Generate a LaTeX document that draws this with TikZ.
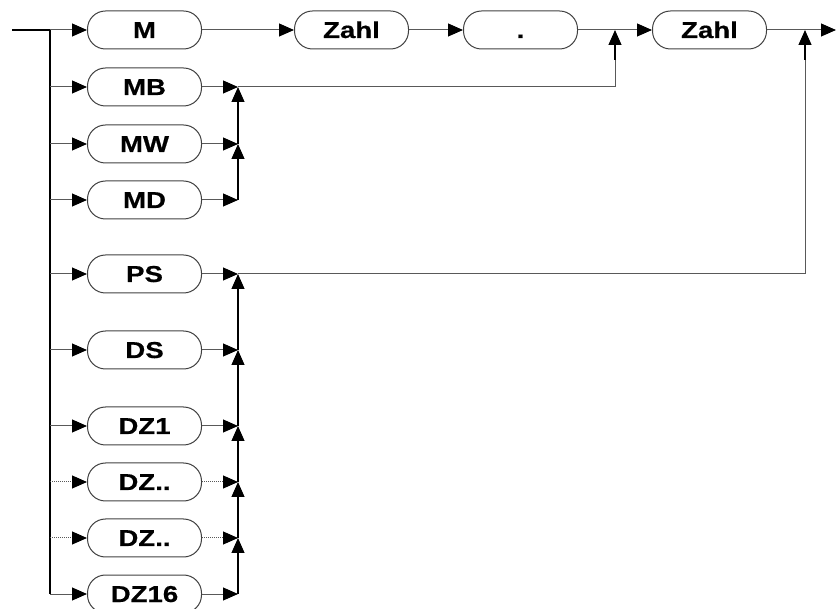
\documentclass[tikz,border=0pt]{standalone}
\usepackage{fontspec}
\newfontfamily\lab{Liberation Sans}[FakeStretch=1.2,BoldFeatures={FakeBold=0.6}]
\usetikzlibrary{arrows.meta}
\begin{document}
\begin{tikzpicture}[x=1pt,y=-1pt,
  box/.style={draw=black!75, line width=1pt, rounded corners=18pt, minimum width=114pt, minimum height=38pt,
    inner sep=0pt, text height=16pt, text depth=0pt, font=\fontsize{23}{23}\lab\bfseries},
  tip/.style={-{Triangle[length=15pt,width=13pt,color=black]}},
  hline/.style={draw=black!65, line width=1pt},
  dline/.style={draw=black!65, line width=1pt, densely dotted},
  vline/.style={draw=black, line width=1.2pt}]
\useasboundingbox (0,0) rectangle (836,609);
% boxes
\node[box] (M) at (144.5,30) {M};
\node[box] (MB) at (144.5,87) {MB};
\node[box] (MW) at (144.5,144) {MW};
\node[box] (MD) at (144.5,200) {MD};
\node[box] (PS) at (144.5,274) {PS};
\node[box] (DS) at (144.5,350) {DS};
\node[box] (DZa) at (144.5,426) {DZ1};
\node[box] (DZb) at (144.5,482) {DZ..};
\node[box] (DZc) at (144.5,538) {DZ..};
\node[box] (DZd) at (144.5,594) {DZ16};
\node[box] (Z1) at (351.5,30) {Zahl};
\node[box] (P) at (520.5,30) {.};
\node[box] (Z2) at (709.5,30) {Zahl};
% coordinates
\coordinate (start) at (12,30);
\foreach \n/\y in {M/30,MB/87,MW/144,MD/200,PS/274,DS/350,DZa/426,DZb/482,DZc/538,DZd/594}{
  \coordinate (l\n) at (50,\y);
  \coordinate (r\n) at (238,\y);
}
\coordinate (j1) at (615,30);
\coordinate (j2) at (805,30);
\coordinate (end) at (836,30);
% entry and left trunk
\draw[black, line width=2pt] (start) -- (lM);
\draw[vline] (lM) -- (lDZd);
% branches in
\foreach \n in {M,MB,MW,MD,PS,DS,DZa,DZd}{
  \draw[hline,tip] (l\n) -- (\n.west);
}
\foreach \n in {DZb,DZc}{
  \draw[dline,tip] (l\n) -- (\n.west);
}
% branches out
\foreach \n in {MB,MW,MD,PS,DS,DZa,DZd}{
  \draw[hline,tip] (\n.east) -- (r\n);
}
\foreach \n in {DZb,DZc}{
  \draw[dline,tip] (\n.east) -- (r\n);
}
% right collectors
\draw[vline,tip] (rMD) -- (rMW);
\draw[vline,tip] (rMW) -- (rMB);
\draw[vline,tip] (rDZd) -- (rDZc);
\draw[vline,tip] (rDZc) -- (rDZb);
\draw[vline,tip] (rDZb) -- (rDZa);
\draw[vline,tip] (rDZa) -- (rDS);
\draw[vline,tip] (rDS) -- (rPS);
% main row
\draw[hline,tip] (M.east) -- (Z1.west);
\draw[hline,tip] (Z1.east) -- (P.west);
\draw[hline,tip] (P.east) -- (Z2.west);
\draw[hline,tip] (Z2.east) -- (end);
% merges
\draw[hline] (rMB) -| (615,60);
\draw[vline,tip] (615,60) -- (j1);
\draw[hline] (rPS) -| (805,60);
\draw[vline,tip] (805,60) -- (j2);
\end{tikzpicture}
\end{document}
